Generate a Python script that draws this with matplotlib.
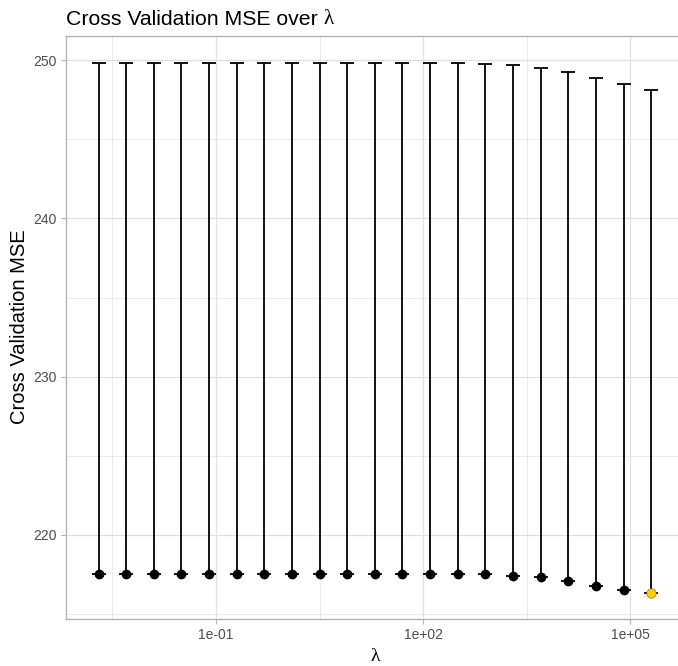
import matplotlib.pyplot as plt
import numpy as np

# log10 of the lambda grid used in cross validation
log_lambda = [-2.7, -2.3, -1.9, -1.5, -1.1, -0.7, -0.3, 0.1, 0.5, 0.9, 1.3,
              1.7, 2.1, 2.5, 2.9, 3.3, 3.7, 4.1, 4.5, 4.9, 5.3]
cv_mse = [217.54, 217.54, 217.54, 217.54, 217.54, 217.54, 217.54, 217.54,
          217.54, 217.54, 217.54, 217.54, 217.53, 217.53, 217.52, 217.41,
          217.32, 217.11, 216.80, 216.51, 216.31]
cv_upper = [249.81, 249.81, 249.81, 249.81, 249.81, 249.81, 249.81, 249.81,
            249.81, 249.81, 249.81, 249.80, 249.80, 249.79, 249.77, 249.70,
            249.53, 249.25, 248.88, 248.46, 248.10]

lam = 10 ** np.array(log_lambda)
mse = np.array(cv_mse)
upper = np.array(cv_upper)
best = np.argmin(mse)

border = '#B3B3B3'
grid = '#E0E0E0'
txt = '#4D4D4D'

fig = plt.figure(figsize=(6.78, 6.66), dpi=100)
ax = fig.add_axes([0.0969, 0.0706, 0.9119, 0.8753])

ax.errorbar(lam, mse, yerr=[np.zeros_like(mse), upper - mse], fmt='none',
            ecolor='black', elinewidth=1.3, capsize=5, capthick=1.3, zorder=3)
ax.plot(lam, mse, 'o', color='black', ms=6, zorder=4)
ax.plot(lam[best], mse[best], 'o', color='#FFD000', mec='#E0A800', mew=0.6,
        ms=6.5, zorder=5)

ax.set_xscale('log')
ax.set_xlim(10 ** -3.175, 10 ** 5.775)
ax.set_ylim(214.69, 251.52)

ax.set_xticks([1e-1, 1e2, 1e5])
ax.set_xticklabels(['1e-01', '1e+02', '1e+05'])
ax.set_xticks([10 ** -2.5, 10 ** 0.5, 10 ** 3.5], minor=True)
ax.xaxis.set_minor_formatter(plt.NullFormatter())
ax.set_yticks([220, 230, 240, 250])
ax.set_yticks([215, 225, 235, 245], minor=True)

ax.grid(True, which='major', color=grid, lw=0.9, zorder=0)
ax.grid(True, which='minor', color=grid, lw=0.45, zorder=0)
ax.tick_params(which='major', length=3.5, width=0.8, color=border,
               labelcolor=txt, labelsize=10, pad=3)
ax.tick_params(which='minor', length=0)
for s in ax.spines.values():
    s.set_color(border)
    s.set_linewidth(1.0)

for lab in ax.get_xticklabels() + ax.get_yticklabels():
    lab.set_family('Liberation Sans')

fig.text(20 / 678, 1 - 327 / 666, 'Cross Validation MSE', family='Liberation Sans',
         fontsize=14.5, rotation=90, ha='center', va='center')
ax.set_xlabel('λ', family='Liberation Serif', fontsize=14, labelpad=4)

# title: sans text followed by a serif lambda
t = fig.text(0.0969, 0.971, 'Cross Validation MSE over ', family='Liberation Sans',
             fontsize=15.3, va='center', ha='left')
fig.canvas.draw()
bb = t.get_window_extent()
fig.text(bb.x1 / fig.bbox.width, 0.971, 'λ', family='Liberation Serif',
         fontsize=15.3, va='center', ha='left')

fig.savefig('out.png', dpi=100)
